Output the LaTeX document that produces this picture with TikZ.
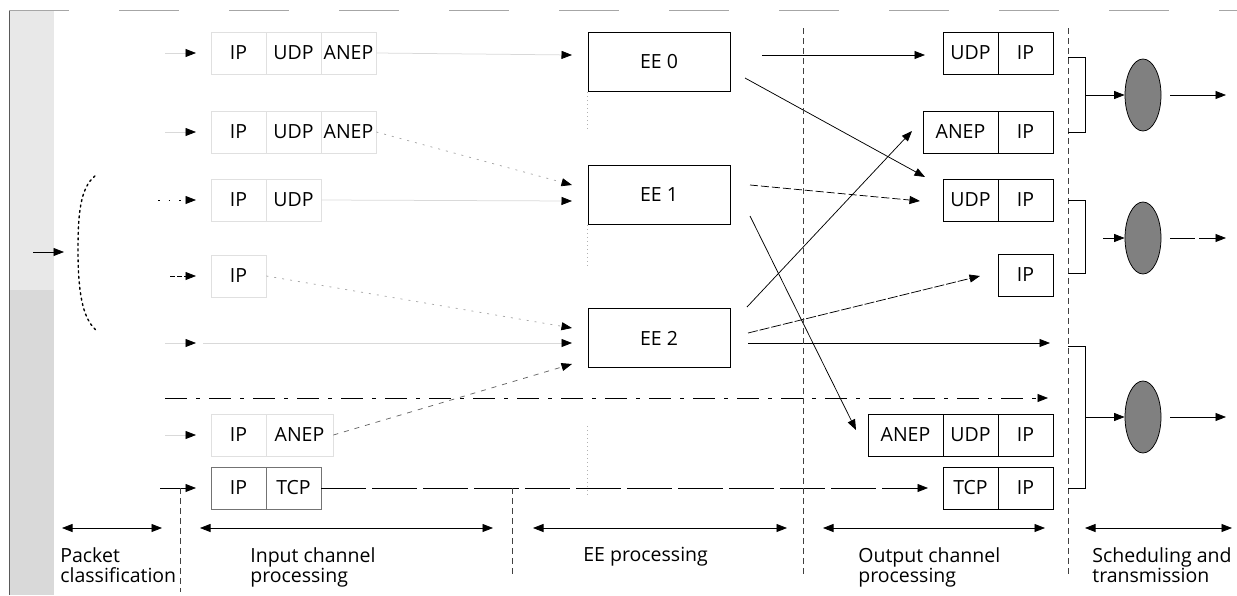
\documentclass[tikz,border=0pt]{standalone}
\usepackage{fontspec}
\setmainfont{Open Sans}
\newfontfamily\diafont{Open Sans}
\newcommand\dfont{\diafont\fontsize{19.5}{20.5}\selectfont}
\usetikzlibrary{arrows.meta,calc,shapes.geometric}
\begin{document}
\begin{tikzpicture}[x=1pt,y=-1pt,line width=0.75pt,
  arr/.style={-{Triangle[length=10.5pt,width=8pt,color=black]}},
  darr/.style={{Triangle[length=10.5pt,width=8pt,color=black]}-{Triangle[length=10.5pt,width=8pt,color=black]}},
  faint/.style={draw=black!15},
  faintdot/.style={draw=black!35,dash pattern=on 2pt off 6pt},
  cell/.style={draw,minimum height=42pt,minimum width=55pt,inner sep=0pt,font=\dfont},
  wcell/.style={cell,minimum width=75pt},
  incell/.style={cell,draw=black!12},
  eebox/.style={draw,minimum width=142pt,minimum height=59pt,inner sep=0pt,font=\dfont},
  qell/.style={ellipse,draw,fill=black!50,minimum width=36pt,minimum height=72pt,inner sep=0pt},
  sep/.style={draw=black!75,dash pattern=on 6pt off 4pt},
  ghost/.style={draw=black!30,dash pattern=on 1pt off 3pt},
  lab/.style={anchor=north west,align=left,inner sep=0pt,font=\dfont}]
\useasboundingbox (0,0) rectangle (1237,595);
% left strip and frame
\fill[black!9] (9,10) rectangle (54,595);
\fill[black!15] (9,290) rectangle (54,595);
\draw[black!65] (9,10) -- (9,595);
\draw[black!35,dash pattern=on 60pt off 50pt] (9,10) -- (1237,10);
% classification bracket
\draw[line width=1.4pt,dash pattern=on 2pt off 3.5pt,line cap=round] (95,176) .. controls (80,188) and (78,215) .. (78,250) .. controls (78,290) and (82,318) .. (96,330);
\coordinate (cin) at (33,252); \coordinate (cend) at (64,252);
\draw[arr] (cin) -- (cend);
% input arrows
\coordinate (s1) at (165,53);  \coordinate (t1) at (196,53);
\coordinate (s2) at (165,132); \coordinate (t2) at (196,132);
\coordinate (s3) at (158,200); \coordinate (t3) at (196,200);
\coordinate (s4) at (170,276); \coordinate (t4) at (196,276);
\coordinate (s5) at (165,343); \coordinate (t5) at (196,343);
\coordinate (s7) at (165,435); \coordinate (t7) at (196,435);
\coordinate (s8) at (160,488); \coordinate (t8) at (196,488);
\draw[faint,arr] (s1) -- (t1);
\draw[faint,arr] (s2) -- (t2);
\draw[arr,dash pattern=on 1.5pt off 9pt] (s3) -- (t3);
\draw[arr,dash pattern=on 5pt off 2pt] (s4) -- (t4);
\draw[faint,arr] (s5) -- (t5);
\draw[faint,arr] (s7) -- (t7);
\draw[arr] (s8) -- (t8);
% input cells
\node[incell] (i1a) at (238.5,53) {IP};
\node[incell] (i1b) at (293.5,53) {UDP};
\node[incell] (i1c) at (348.5,53) {ANEP};
\node[incell] (i2a) at (238.5,132) {IP};
\node[incell] (i2b) at (293.5,132) {UDP};
\node[incell] (i2c) at (348.5,132) {ANEP};
\node[incell] (i3a) at (238.5,200) {IP};
\node[incell] (i3b) at (293.5,200) {UDP};
\node[incell] (i4a) at (238.5,276) {IP};
\node[incell] (i7a) at (238.5,435) {IP};
\node[incell,minimum width=67pt] (i7b) at (299.5,435) {ANEP};
\node[cell,draw=black!55] (i8a) at (238.5,488) {IP};
\node[cell,draw=black!55] (i8b) at (293.5,488) {TCP};
% EE boxes
\node[eebox] (ee0) at (659,62) {EE 0};
\node[eebox] (ee1) at (659,195) {EE 1};
\node[eebox] (ee2) at (659,338) {EE 2};
\draw[ghost] (ee0.south west) -- ++(0,40);
\draw[ghost] (ee1.south west) -- ++(0,42);
\draw[ghost] ($(ee2.south west)+(0,58)$) -- ++(0,70);
% input -> EE
\coordinate (e0in) at (572,55);
\coordinate (e1inA) at (572,185);
\coordinate (e1inB) at (572,201);
\coordinate (e2inA) at (572,328);
\coordinate (e2inB) at (572,343);
\coordinate (e2inC) at (572,364);
\coordinate (s5b) at (203,343);
\draw[faint,arr] (i1c.east) -- (e0in);
\draw[faintdot,arr] (i2c.east) -- (e1inA);
\draw[faint,arr] (i3b.east) -- (e1inB);
\draw[faintdot,arr] (i4a.east) -- (e2inA);
\draw[faint,arr] (s5b) -- (e2inB);
\draw[draw=black!60,dash pattern=on 5pt off 6pt,arr] (i7b.east) -- (e2inC);
% pass-through rows
\coordinate (s6) at (165,398); \coordinate (t6) at (1048,398);
\draw[arr,dash pattern=on 22pt off 9pt on 4pt off 9pt] (s6) -- (t6);
\coordinate (t8o) at (928,488);
\draw[arr,dash pattern=on 45pt off 6pt] (i8b.east) -- (t8o);
% output cells
\node[cell] (aU) at (970.5,53) {UDP};
\node[cell] (aI) at (1025.5,53) {IP};
\node[wcell] (bA) at (960.5,132) {ANEP};
\node[cell] (bI) at (1025.5,132) {IP};
\node[cell] (cU) at (970.5,200) {UDP};
\node[cell] (cI) at (1025.5,200) {IP};
\node[cell] (dI) at (1025.5,275) {IP};
\node[wcell] (eA) at (905.5,435) {ANEP};
\node[cell] (eU) at (970.5,435) {UDP};
\node[cell] (eI) at (1025.5,435) {IP};
\node[cell] (fT) at (970.5,488) {TCP};
\node[cell] (fI) at (1025.5,488) {IP};
% EE -> output
\coordinate (o0a) at (762,55);  \coordinate (tA) at (925,55);
\coordinate (o0b) at (745,78);  \coordinate (tC1) at (925,177);
\coordinate (o1a) at (750,185); \coordinate (tC2) at (920,201);
\coordinate (o1b) at (750,216); \coordinate (tE) at (856,430);
\coordinate (o2a) at (747,307); \coordinate (tB) at (912,131);
\coordinate (o2b) at (748,333); \coordinate (tD) at (980,276);
\coordinate (o2c) at (748,343); \coordinate (t5o) at (1050,343);
\draw[arr] (o0a) -- (tA);
\draw[arr] (o0b) -- (tC1);
\draw[arr,dash pattern=on 8pt off 3pt] (o1a) -- (tC2);
\draw[arr] (o1b) -- (tE);
\draw[arr] (o2a) -- (tB);
\draw[arr,dash pattern=on 10pt off 2pt] (o2b) -- (tD);
\draw[arr] (o2c) -- (t5o);
% separators
\draw[sep] (180,488) -- (180,592);
\draw[sep] (512,488) -- (512,575);
\draw[sep] (803,28) -- (803,575);
\draw[sep] (1068,28) -- (1068,575);
% brackets
\draw (1068,57) -| (1085,132) -- (1068,132);
\draw (1068,200) -| (1085,273) -- (1068,273);
\draw (1068,346) -| (1085,488) -- (1068,488);
% schedulers
\node[qell] (q1) at (1143,95) {};
\node[qell] (q2) at (1143,238) {};
\node[qell] (q3) at (1143,417) {};
\coordinate (b1) at (1085,95);  \coordinate (q1s) at (1170,95);  \coordinate (q1o) at (1226,95);
\coordinate (b2) at (1103,238); \coordinate (q2s) at (1170,238); \coordinate (q2o) at (1226,238);
\coordinate (b3) at (1085,417); \coordinate (q3s) at (1170,417); \coordinate (q3o) at (1226,417);
\draw[arr] (b1) -- (q1.west);
\draw[arr] (b2) -- (q2.west);
\draw[arr] (b3) -- (q3.west);
\draw[arr] (q1s) -- (q1o);
\draw[arr,dash pattern=on 25pt off 4pt] (q2s) -- (q2o);
\draw[arr] (q3s) -- (q3o);
% stage extents
\coordinate (p1a) at (62,528);   \coordinate (p1b) at (162,528);
\coordinate (p2a) at (200,528);  \coordinate (p2b) at (493,528);
\coordinate (p3a) at (533,528);  \coordinate (p3b) at (787,528);
\coordinate (p4a) at (823,528);  \coordinate (p4b) at (1045,528);
\coordinate (p5a) at (1085,528); \coordinate (p5b) at (1232,528);
\draw[darr] (p1a) -- (p1b);
\draw[darr] (p2a) -- (p2b);
\draw[darr] (p3a) -- (p3b);
\draw[darr] (p4a) -- (p4b);
\draw[darr] (p5a) -- (p5b);
% labels
\node[lab] (l1) at (60,547) {Packet\\classification};
\node[lab] (l2) at (250,547) {Input channel\\processing};
\node[lab] (l3) at (583,547) {EE processing};
\node[lab] (l4) at (858,547) {Output channel\\processing};
\node[lab] (l5) at (1092,547) {Scheduling and\\transmission};
\end{tikzpicture}
\end{document}
